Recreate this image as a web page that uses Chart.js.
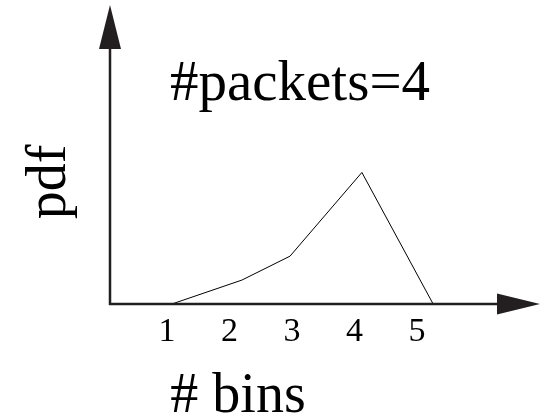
<!DOCTYPE html>
<html>
<head>
<meta charset="utf-8">
<style>
  html, body { margin: 0; padding: 0; background: #fff; }
  #wrap { width: 546px; height: 418px; }
</style>
<script src="https://cdn.jsdelivr.net/npm/chart.js@4/dist/chart.umd.min.js"></script>
</head>
<body>
<div id="wrap"><canvas id="pdfChart" width="546" height="418"></canvas></div>
<script>
// bin positions along the x axis and the pdf value at each of them
const binPositions = [1.08, 2.2, 2.97, 4.12, 5.26];
const pdfValues = [0, 0.1, 0.2, 0.55, 0];
const binTicks = [1, 2, 3, 4, 5];

const plotTitle = '#packets=4';
const xTitle = '# bins';
const yTitle = 'pdf';

const ink = '#231f20';
const serif = '"Liberation Serif", "DejaVu Serif", serif';

// axes with arrow heads plus the free-floating labels
const arrowAxes = {
    id: 'arrowAxes',
    afterDraw(chart) {
        const { ctx, chartArea } = chart;
        const { left, top, right, bottom } = chartArea;
        ctx.save();
        ctx.strokeStyle = ink;
        ctx.fillStyle = ink;
        ctx.lineWidth = 2.5;

        // y axis
        ctx.beginPath();
        ctx.moveTo(left, bottom + 1);
        ctx.lineTo(left, top + 40);
        ctx.stroke();
        ctx.beginPath();
        ctx.moveTo(left, top);
        ctx.lineTo(left - 11, top + 44);
        ctx.lineTo(left + 11, top + 44);
        ctx.closePath();
        ctx.fill();

        // x axis
        ctx.beginPath();
        ctx.moveTo(left - 1, bottom);
        ctx.lineTo(right - 40, bottom);
        ctx.stroke();
        ctx.beginPath();
        ctx.moveTo(right, bottom);
        ctx.lineTo(right - 43, bottom - 10.5);
        ctx.lineTo(right - 43, bottom + 10.5);
        ctx.closePath();
        ctx.fill();

        ctx.fillStyle = '#000';
        ctx.font = '57px ' + serif;
        ctx.textBaseline = 'alphabetic';
        ctx.textAlign = 'center';
        ctx.fillText(plotTitle, 300, 100);
        ctx.font = '56px ' + serif;
        ctx.fillText(xTitle, 238, 412);

        ctx.translate(65, 182);
        ctx.rotate(-Math.PI / 2);
        ctx.fillText(yTitle, 0, 0);
        ctx.restore();
    }
};

const ctx = document.getElementById('pdfChart').getContext('2d');
new Chart(ctx, {
    type: 'line',
    data: {
        datasets: [{
            data: binPositions.map((x, i) => ({ x: x, y: pdfValues[i] })),
            borderColor: '#000',
            borderWidth: 1,
            pointRadius: 0,
            tension: 0,
            fill: false
        }]
    },
    options: {
        responsive: false,
        animation: false,
        layout: { padding: { left: 110, right: 6, top: 5, bottom: 0 } },
        plugins: {
            legend: { display: false },
            tooltip: { enabled: false }
        },
        scales: {
            x: {
                type: 'linear',
                min: 0.09,
                max: 6.97,
                afterBuildTicks: scale => {
                    scale.ticks = binTicks.map(v => ({ value: v }));
                },
                afterFit: scale => { scale.height = 114; },
                grid: { display: false, drawTicks: false },
                border: { display: false },
                ticks: {
                    color: '#000',
                    padding: 8,
                    maxRotation: 0,
                    autoSkip: false,
                    font: { family: serif, size: 34 }
                }
            },
            y: {
                display: false,
                min: 0,
                max: 1.25
            }
        }
    },
    plugins: [arrowAxes]
});
</script>
</body>
</html>
